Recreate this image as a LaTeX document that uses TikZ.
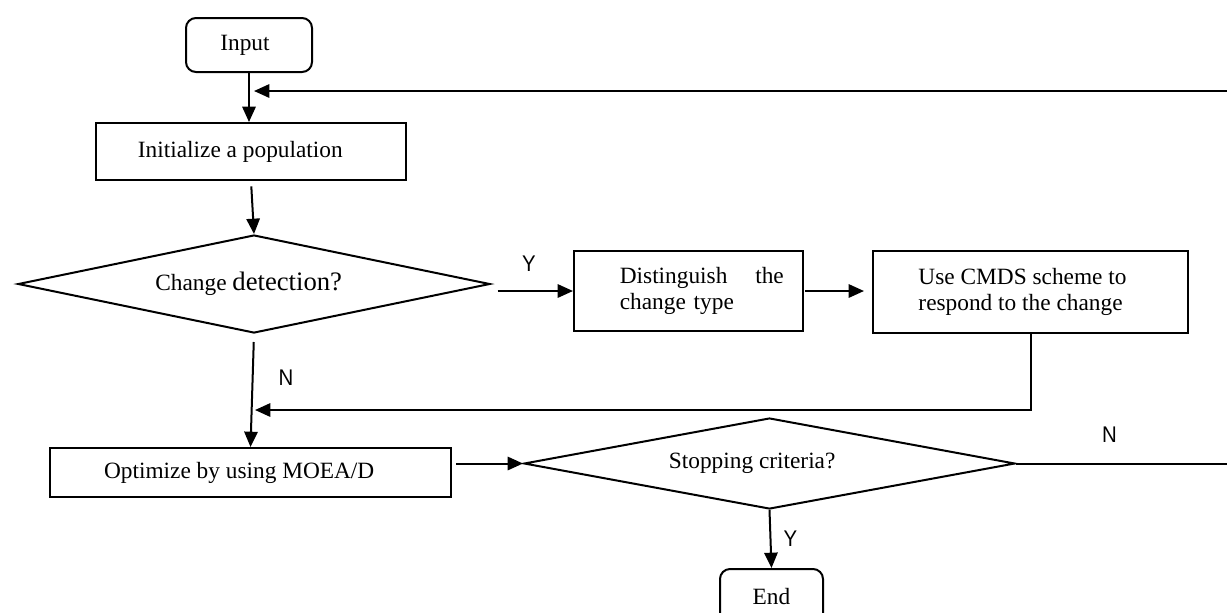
\documentclass[tikz,border=0pt]{standalone}
\usepackage{fontspec}
\setmainfont{Liberation Serif}
\newfontfamily\labelfont[FakeStretch=0.9]{Liberation Sans}
\usetikzlibrary{arrows.meta,shapes.geometric}
\begin{document}
\begin{tikzpicture}[x=0.75pt,y=-0.75pt,
  line width=1.5pt,
  box/.style={draw, rectangle, inner sep=0pt, font=\fontsize{17.5}{19.5}\selectfont},
  term/.style={box, rounded corners=7.5pt},
  dec/.style={draw, diamond, inner sep=0pt, aspect=4, font=\fontsize{17.5}{19.5}\selectfont},
  arr/.style={-{Triangle[length=11.5pt,width=10pt]}},
  lab/.style={font=\labelfont\fontsize{17}{19}\selectfont, inner sep=0pt}
]
\useasboundingbox (0,0) rectangle (1227,612);
\node[term, minimum width=94.5pt, minimum height=40.5pt] (input) at (249,45) {Input\hspace*{6pt}};
\node[box, minimum width=232.5pt, minimum height=42.75pt] (init) at (251,151.5) {Initialize a population\hspace*{16pt}};
\node[dec, minimum width=354pt, minimum height=73.5pt] (d1) at (254,284) {Change {\fontsize{20}{22}\selectfont detection?}\hspace*{8pt}};
\node[box, minimum width=171.75pt, minimum height=60pt, align=left, text width=143pt, font=\fontsize{17.5}{19.5}\selectfont] (dist) at (688.5,291) {\hspace*{20pt}\makebox[123pt]{Distinguish\hfill the}\\\hspace*{20pt}change type};
\node[box, minimum width=236.25pt, minimum height=61.5pt, align=left] (cmds) at (1030.5,292) {Use CMDS scheme to\hspace*{12pt}\\respond to the change\hspace*{12pt}};
\node[box, minimum width=300.75pt, minimum height=36.75pt] (opt) at (250.5,472.5) {Optimize by using MOEA/D\hspace*{17pt}};
\node[dec, minimum width=368.25pt, minimum height=68.25pt] (d2) at (769.5,463.5) {Stopping criteria?\hspace*{26pt}};
\node[term, minimum width=77.25pt, minimum height=42pt] (end) at (771.5,597) {End};

\node[lab] (y1) at (529,264) {Y};
\node[lab] (n1) at (286,378) {N};
\node[lab] (n2) at (1109.5,434.5) {N};
\node[lab] (y2) at (790.5,539) {Y};

\coordinate (m1) at (255,410);
\coordinate (r1) at (1227,91);
\coordinate (t1) at (254,91);
\coordinate (r2) at (1227,463.5);

\draw[arr] (input.south) -- (input.south |- init.north);
\draw[arr, shorten <=4pt] (init.south) -- (d1.north);
\draw[arr, shorten <=5pt] (d1.east |- dist.west) -- (dist.west);
\draw[arr, shorten <=1pt, shorten >=6pt] (dist.east) -- (dist.east -| cmds.west);
\draw[arr] (cmds.south) |- (m1);
\draw[arr, shorten <=6pt] (d1.south) -- (opt.north);
\draw[arr, shorten <=3pt] (opt.east |- d2.west) -- (d2.west);
\draw (d2.east) -- (r2);
\draw[arr] (r1) -- (t1);
\draw[arr] (d2.south) -- (end.north);
\end{tikzpicture}
\end{document}
